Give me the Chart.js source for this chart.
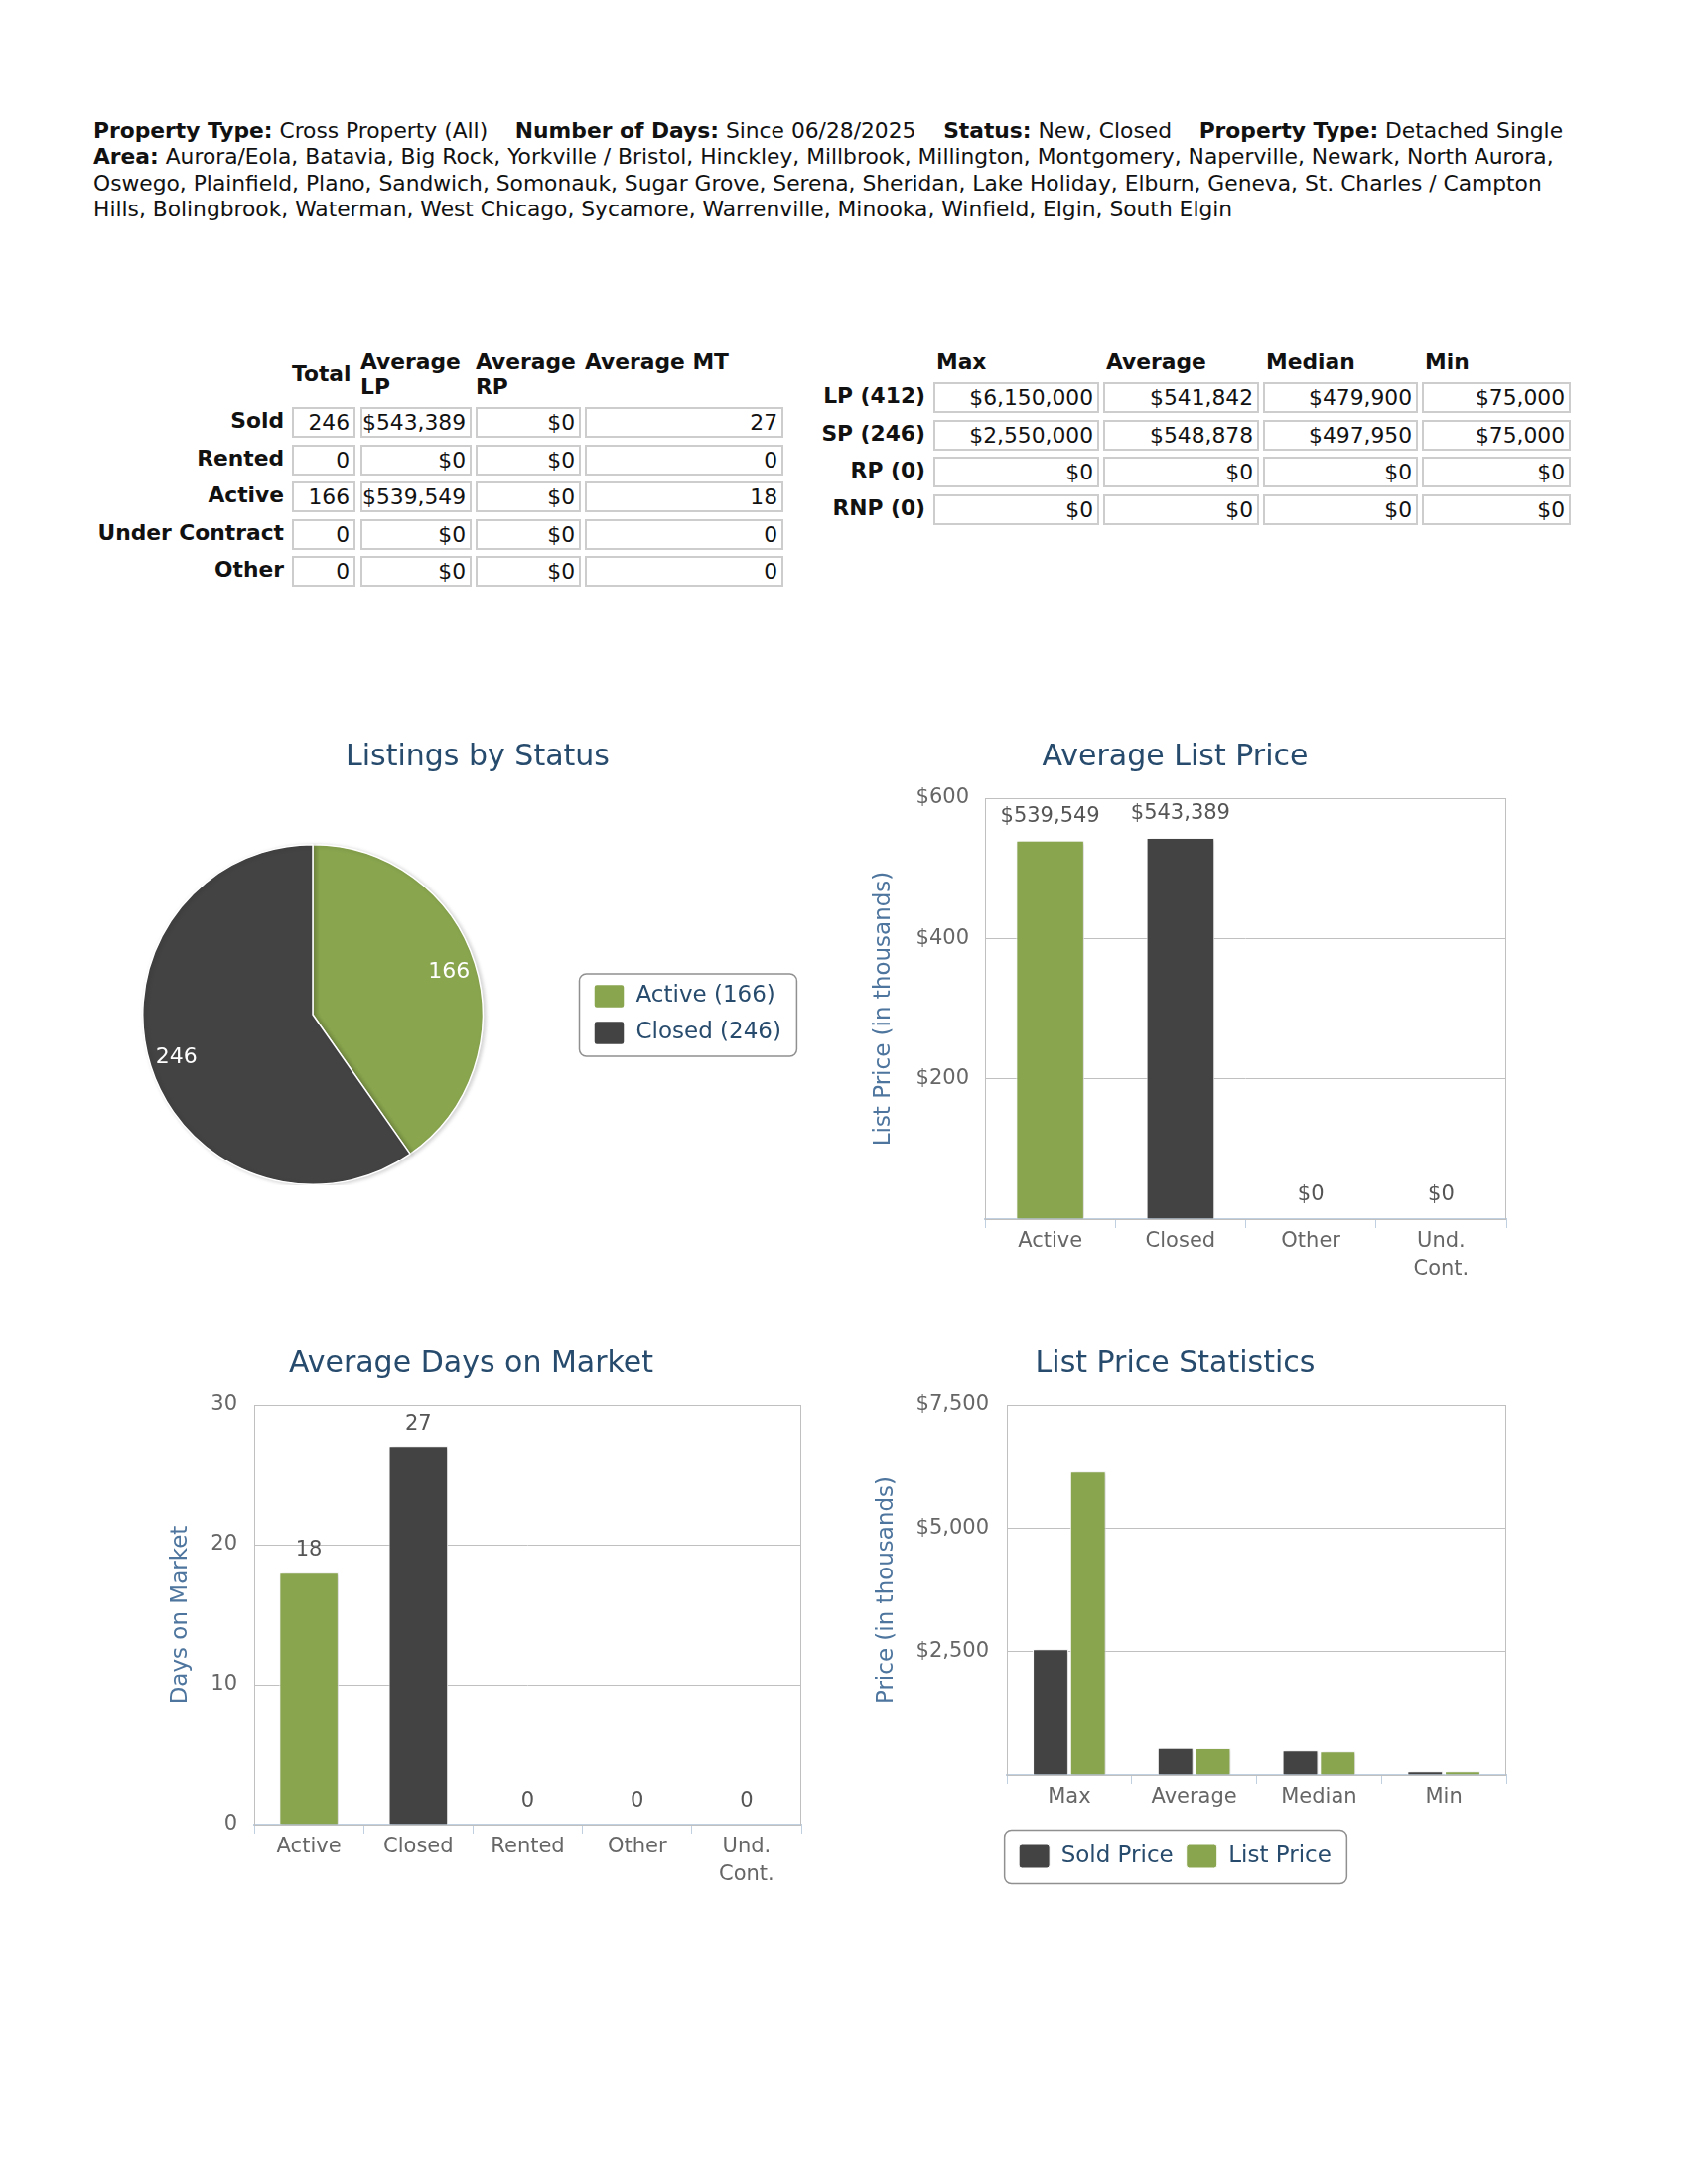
<!DOCTYPE html>
<html>
<head>
<meta charset="utf-8">
<script src="https://cdn.jsdelivr.net/npm/chart.js@4.4.1/dist/chart.umd.min.js"></script>
<style>
  html, body { margin: 0; padding: 0; background: #fff; }
  body { position: relative; width: 1700px; height: 2200px; overflow: hidden; --fs: 20px; }
  .txt { font-family: "DejaVu Sans", "Liberation Sans", sans-serif; font-size: var(--fs); color: #111; }
  #hdr { position: absolute; left: 94px; top: 119px; line-height: 26.4px; white-space: nowrap; }
  .cell { position: absolute; box-sizing: border-box; border: 2px solid #cdcdcd; text-align: right;
          padding-right: 4px; line-height: 27px; white-space: nowrap; }
  .lbl { position: absolute; font-weight: bold; text-align: right; white-space: nowrap; line-height: 27px; }
  .hd { position: absolute; font-weight: bold; white-space: nowrap; line-height: 25px; }
  canvas { position: absolute; }
</style>
</head>
<body>
<div id="hdr" class="txt">
<span id="line1"><b>Property Type:</b> Cross Property (All)&nbsp;&nbsp;&nbsp; <b>Number of Days:</b> Since 06/28/2025&nbsp;&nbsp;&nbsp; <b>Status:</b> New, Closed&nbsp;&nbsp;&nbsp; <b>Property Type:</b> Detached Single</span><br>
<b>Area:</b> Aurora/Eola, Batavia, Big Rock, Yorkville / Bristol, Hinckley, Millbrook, Millington, Montgomery, Naperville, Newark, North Aurora,<br>
Oswego, Plainfield, Plano, Sandwich, Somonauk, Sugar Grove, Serena, Sheridan, Lake Holiday, Elburn, Geneva, St. Charles / Campton<br>
Hills, Bolingbrook, Waterman, West Chicago, Sycamore, Warrenville, Minooka, Winfield, Elgin, South Elgin
</div>
<div id="tables"></div>

<canvas id="pieChart" style="left:45px;top:730px;width:872px;height:464px" width="872" height="464"></canvas>
<canvas id="lpChart" style="left:850px;top:730px;width:680px;height:560px" width="680" height="560"></canvas>
<canvas id="domChart" style="left:142px;top:1341px;width:678px;height:559px" width="678" height="559"></canvas>
<canvas id="statChart" style="left:850px;top:1341px;width:680px;height:561px" width="680" height="561"></canvas>

<script>
// summary table
const summaryRows = ['Sold', 'Rented', 'Active', 'Under Contract', 'Other'];
const summaryTotal = [246, 0, 166, 0, 0];
const summaryAvgLP = [543389, 0, 539549, 0, 0];
const summaryAvgRP = [0, 0, 0, 0, 0];
const summaryAvgMT = [27, 0, 18, 0, 0];

// price statistics table
const statRows = ['LP (412)', 'SP (246)', 'RP (0)', 'RNP (0)'];
const statCols = ['Max', 'Average', 'Median', 'Min'];
const statLP = [6150000, 541842, 479900, 75000];
const statSP = [2550000, 548878, 497950, 75000];
const statRP = [0, 0, 0, 0];
const statRNP = [0, 0, 0, 0];

// charts
const pieLabels = ['Active', 'Closed'];
const pieCounts = [166, 246];
const lpCategories = ['Active', 'Closed', 'Other', ['Und.', 'Cont.']];
const lpValues = [539549, 543389, 0, 0];
const domCategories = ['Active', 'Closed', 'Rented', 'Other', ['Und.', 'Cont.']];
const domValues = [18, 27, 0, 0, 0];
const lpTicks = [0, 200, 400, 600];
const domTicks = [0, 10, 20, 30];
const statTicks = [0, 2500, 5000, 7500];

const GREEN = '#89A54E';
const DARK = '#434343';
const money = v => '$' + Math.round(v).toLocaleString('en-US');
const formats = { money: money, plain: v => String(v) };

// fit the header font so the first line spans the same width as the original
const line1 = document.getElementById('line1');
const fs = 20 * 1481 / line1.getBoundingClientRect().width;
document.body.style.setProperty('--fs', fs.toFixed(2) + 'px');

// ---- tables ----
const tables = document.getElementById('tables');
function put(cls, text, left, top, width, height) {
    const d = document.createElement('div');
    d.className = cls + ' txt';
    d.textContent = text;
    d.style.left = left + 'px';
    d.style.top = top + 'px';
    if (width) d.style.width = width + 'px';
    if (height) d.style.height = height + 'px';
    tables.appendChild(d);
    return d;
}

const sumCols = [[294, 64], [363, 112], [479, 106], [589, 200]];
put('hd', 'Total', 294, 364);
put('hd', 'Average', 363, 352);
put('hd', 'LP', 363, 377);
put('hd', 'Average', 479, 352);
put('hd', 'RP', 479, 377);
put('hd', 'Average MT', 589, 352);
summaryRows.forEach((name, i) => {
    const top = 410 + i * 37.5;
    put('lbl', name, 0, top, 286, 31);
    const vals = [summaryTotal[i], money(summaryAvgLP[i]), money(summaryAvgRP[i]), summaryAvgMT[i]];
    vals.forEach((v, j) => put('cell', String(v), sumCols[j][0], top, sumCols[j][1], 31));
});

const stCols = [[940, 167], [1111, 157], [1272, 156], [1432, 150]];
statCols.forEach((c, j) => put('hd', c, stCols[j][0] + 3, 352));
[statLP, statSP, statRP, statRNP].forEach((row, i) => {
    const top = 385 + i * 37.5;
    put('lbl', statRows[i], 700, top, 232, 31);
    row.forEach((v, j) => put('cell', money(v), stCols[j][0], top, stCols[j][1], 31));
});

// ---- charts ----
Chart.defaults.font.family = '"DejaVu Sans", sans-serif';
Chart.defaults.animation = false;
Chart.defaults.responsive = false;
Chart.defaults.plugins.tooltip.enabled = false;

const titleOpts = text => ({
    display: true, text: text, color: '#274b6d',
    font: { size: 30, weight: 'normal' },
    padding: { top: 15, bottom: 23 }
});

// plot border, shadows, value labels, legend frame
const decor = {
    id: 'decor',
    beforeLayout(chart) {
        const w = chart.options.plugins.decor && chart.options.plugins.decor.legendWidth;
        const lg = chart.legend;
        if (w && lg && !lg._fixed) {
            const fit = lg.fit.bind(lg);
            lg.fit = function () { fit(); this.width = w; };
            lg._fixed = true;
        }
    },
    beforeDatasetsDraw(chart) {
        const o = chart.options.plugins.decor || {};
        const ctx = chart.ctx, a = chart.chartArea;
        if (o.plotBorder) {
            ctx.save();
            ctx.strokeStyle = '#C0C0C0';
            ctx.lineWidth = 1;
            ctx.strokeRect(a.left + 0.5, a.top + 0.5, a.width - 1, a.height);
            ctx.restore();
        }
        ctx.save();
        ctx.shadowColor = 'rgba(0,0,0,0.18)';
        ctx.shadowBlur = 4;
        ctx.shadowOffsetX = 2;
        ctx.shadowOffsetY = 1;
    },
    afterDatasetsDraw(chart) {
        const ctx = chart.ctx;
        ctx.restore();
        const o = chart.options.plugins.decor || {};
        if (o.barLabels) {
            const fmt = formats[o.barLabels];
            const values = o.barLabels === 'money' ? lpValues : domValues;
            ctx.save();
            ctx.fillStyle = '#555';
            ctx.font = '21px "DejaVu Sans", sans-serif';
            ctx.textAlign = 'center';
            ctx.textBaseline = 'middle';
            chart.getDatasetMeta(0).data.forEach((bar, i) => {
                ctx.fillText(fmt(values[i]), bar.x, bar.y - o.labelOffset);
            });
            ctx.restore();
        }
        if (o.pieLabels) {
            ctx.save();
            ctx.fillStyle = '#fff';
            ctx.font = '22px "DejaVu Sans", sans-serif';
            ctx.textAlign = 'center';
            ctx.textBaseline = 'middle';
            chart.getDatasetMeta(0).data.forEach((arc, i) => {
                const mid = (arc.startAngle + arc.endAngle) / 2;
                const r = arc.outerRadius * 0.84;
                ctx.fillText(String(pieCounts[i]), arc.x + Math.cos(mid) * r, arc.y + Math.sin(mid) * r);
            });
            ctx.restore();
        }
    },
    afterDraw(chart) {
        const o = chart.options.plugins.decor || {};
        const lg = chart.legend;
        if (!o.legendFrame || !lg || !lg.legendHitBoxes.length) return;
        const hb = lg.legendHitBoxes;
        const l = Math.min(...hb.map(h => h.left)) - o.legendFrame[0];
        const t = Math.min(...hb.map(h => h.top)) - o.legendFrame[1];
        const r = Math.max(...hb.map(h => h.left + h.width)) + o.legendFrame[0];
        const b = Math.max(...hb.map(h => h.top + h.height)) + o.legendFrame[1];
        const ctx = chart.ctx;
        ctx.save();
        ctx.strokeStyle = '#909090';
        ctx.lineWidth = 1.5;
        ctx.beginPath();
        ctx.roundRect(l + 0.5, t + 0.5, r - l, b - t, 7);
        ctx.stroke();
        ctx.restore();
    }
};

const legendLabels = {
    color: '#274b6d', font: { size: 23 }, boxWidth: 31, boxHeight: 24,
    padding: 13, useBorderRadius: true, borderRadius: 3
};

function yAxis(ticks, fmt, title, width, titlePad, tickPad) {
    return {
        min: ticks[0], max: ticks[ticks.length - 1],
        afterBuildTicks: s => { s.ticks = ticks.map(v => ({ value: v })); },
        ticks: { color: '#666', font: { size: 21 }, padding: tickPad, callback: fmt },
        grid: { color: '#C0C0C0', drawTicks: false },
        border: { display: false },
        title: { display: true, text: title, color: '#4d759e', font: { size: 23 }, padding: { top: titlePad, bottom: 0 } },
        afterFit: s => { s.width = width; }
    };
}

function xAxis(height) {
    return {
        ticks: { color: '#666', font: { size: 21, lineHeight: 1.33 }, padding: 0 },
        grid: { offset: true, drawOnChartArea: false, color: '#C0D0E0', tickColor: '#C0D0E0', tickLength: 9 },
        border: { color: '#C0D0E0', width: 2 },
        afterFit: s => { s.height = height; }
    };
}

// Listings by Status
new Chart(document.getElementById('pieChart'), {
    type: 'pie',
    data: {
        labels: pieLabels.map((l, i) => l + ' (' + pieCounts[i] + ')'),
        datasets: [{ data: pieCounts, backgroundColor: [GREEN, DARK], borderColor: '#fff', borderWidth: 1.5 }]
    },
    options: {
        plugins: {
            title: Object.assign(titleOpts('Listings by Status'), { padding: { top: 15, bottom: 69 } }),
            legend: { position: 'right', fullSize: false, labels: legendLabels },
            decor: { legendWidth: 332, legendFrame: [15, 11], pieLabels: true }
        }
    },
    plugins: [decor]
});

// Average List Price
new Chart(document.getElementById('lpChart'), {
    type: 'bar',
    data: {
        labels: lpCategories,
        datasets: [{
            data: lpValues.map(v => v / 1000),
            backgroundColor: [GREEN, DARK, GREEN, DARK], borderColor: '#fff', borderWidth: 1,
            categoryPercentage: 0.6, barPercentage: 0.87
        }]
    },
    options: {
        layout: { padding: { right: 13 } },
        scales: {
            x: xAxis(62),
            y: yAxis(lpTicks, v => v === 0 ? '' : '$' + v, 'List Price (in thousands)', 142, 26, 16)
        },
        plugins: {
            title: titleOpts('Average List Price'),
            legend: { display: false },
            decor: { plotBorder: true, barLabels: 'money', labelOffset: 24 }
        }
    },
    plugins: [decor]
});

// Average Days on Market
new Chart(document.getElementById('domChart'), {
    type: 'bar',
    data: {
        labels: domCategories,
        datasets: [{
            data: domValues,
            backgroundColor: [GREEN, DARK, GREEN, DARK, GREEN], borderColor: '#fff', borderWidth: 1,
            categoryPercentage: 0.6, barPercentage: 0.9
        }]
    },
    options: {
        layout: { padding: { right: 13 } },
        scales: {
            x: xAxis(62),
            y: yAxis(domTicks, v => String(v), 'Days on Market', 114, 26, 17)
        },
        plugins: {
            title: titleOpts('Average Days on Market'),
            legend: { display: false },
            decor: { plotBorder: true, barLabels: 'plain', labelOffset: 23 }
        }
    },
    plugins: [decor]
});

// List Price Statistics
new Chart(document.getElementById('statChart'), {
    type: 'bar',
    data: {
        labels: statCols,
        datasets: [
            { label: 'Sold Price', data: statSP.map(v => v / 1000), backgroundColor: DARK, borderColor: '#fff', borderWidth: 1,
              categoryPercentage: 0.6, barPercentage: 0.95 },
            { label: 'List Price', data: statLP.map(v => v / 1000), backgroundColor: GREEN, borderColor: '#fff', borderWidth: 1,
              categoryPercentage: 0.6, barPercentage: 0.95 }
        ]
    },
    options: {
        layout: { padding: { right: 13, bottom: 10 } },
        scales: {
            x: xAxis(57),
            y: yAxis(statTicks, v => v === 0 ? '' : money(v), 'Price (in thousands)', 164, 29, 18)
        },
        plugins: {
            title: titleOpts('List Price Statistics'),
            legend: { position: 'bottom', labels: legendLabels },
            decor: { plotBorder: true, legendFrame: [15, 15] }
        }
    },
    plugins: [decor]
});
</script>
</body>
</html>
